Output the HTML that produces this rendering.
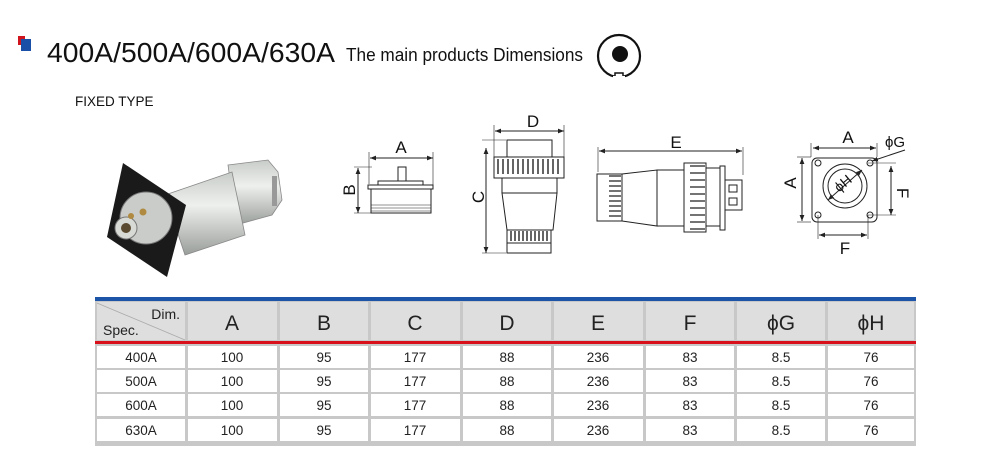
<!DOCTYPE html>
<html><head><meta charset="utf-8"><style>
html,body{margin:0;padding:0;background:#fff;}
svg{display:block;font-family:"Liberation Sans",Arial,sans-serif;}
</style></head><body>
<svg width="1000" height="476" viewBox="0 0 1000 476" xmlns="http://www.w3.org/2000/svg">
<defs>
<marker id="ar" viewBox="0 0 10 10" refX="10" refY="5" markerWidth="6" markerHeight="6" orient="auto-start-reverse"><path d="M0,1 L10,5 L0,9 z" fill="#222"/></marker>
<linearGradient id="cyl" x1="0" y1="0" x2="0" y2="1"><stop offset="0" stop-color="#c8ccc8"/><stop offset="0.4" stop-color="#eef0ee"/><stop offset="1" stop-color="#9a9e9a"/></linearGradient>
</defs>
<!-- title -->
<rect x="18" y="36" width="7" height="9" fill="#d0141e"/>
<rect x="21" y="39" width="10" height="12" fill="#1a4fa8"/>
<text x="47" y="62" font-size="28" fill="#111" textLength="288" lengthAdjust="spacingAndGlyphs">400A/500A/600A/630A</text>
<text x="346" y="61" font-size="18" fill="#111" textLength="237" lengthAdjust="spacingAndGlyphs">The main products Dimensions</text>
<circle cx="619" cy="56" r="21" fill="none" stroke="#111" stroke-width="2.2"/>
<circle cx="620" cy="54" r="8" fill="#111"/>
<rect x="615" y="73" width="8" height="6" fill="#fff" stroke="#111" stroke-width="1.5"/>
<rect x="613" y="76" width="12" height="5" fill="#fff"/>
<text x="75" y="106" font-size="13.5" fill="#111">FIXED TYPE</text>

<!-- photo -->
<g>
<path d="M228,165 L268,160 L278,172 L282,200 L272,215 L236,225 z" fill="url(#cyl)" stroke="#888" stroke-width="0.8"/>
<path d="M165,195 L232,172 L245,235 L185,255 z" fill="url(#cyl)" stroke="#888" stroke-width="0.8"/>
<path d="M123,163 L186,205 L167,277 L107,237 z" fill="#1a1a1a"/>
<circle cx="146" cy="218" r="26" fill="#c9ccc9" stroke="#777"/>
<circle cx="126" cy="228" r="11" fill="#d8dad6" stroke="#777"/>
<circle cx="126" cy="228" r="5" fill="#5a4a30"/>
<circle cx="143" cy="212" r="3.5" fill="#b08a40"/>
<circle cx="131" cy="216" r="3" fill="#b08a40"/>
<rect x="272" y="176" width="5" height="30" fill="#999"/>
</g>

<g stroke="#222" fill="none" stroke-width="1">
<line x1="370" y1="158" x2="433" y2="158" marker-start="url(#ar)" marker-end="url(#ar)"/>
<line x1="369" y1="152" x2="369" y2="184" stroke-width="0.6"/>
<line x1="433" y1="152" x2="433" y2="186" stroke-width="0.6"/>
<line x1="358" y1="168" x2="358" y2="213" marker-start="url(#ar)" marker-end="url(#ar)"/>
<line x1="354" y1="167" x2="372" y2="167" stroke-width="0.6"/>
<line x1="354" y1="213" x2="372" y2="213" stroke-width="0.6"/>
<rect x="398" y="167" width="8" height="14"/>
<rect x="378" y="181" width="45" height="4"/>
<rect x="368" y="185" width="65" height="4"/>
<rect x="371" y="189" width="60" height="24"/>
<line x1="371" y1="205" x2="431" y2="205" stroke-width="0.6"/><line x1="371" y1="208" x2="431" y2="208" stroke-width="0.6"/><line x1="371" y1="211" x2="431" y2="211" stroke-width="0.6"/>
<line x1="495" y1="131" x2="564" y2="131" marker-start="url(#ar)" marker-end="url(#ar)"/>
<line x1="494" y1="125" x2="494" y2="157" stroke-width="0.6"/>
<line x1="564" y1="125" x2="564" y2="157" stroke-width="0.6"/>
<line x1="486" y1="148" x2="486" y2="253" marker-start="url(#ar)" marker-end="url(#ar)"/>
<line x1="482" y1="140" x2="506" y2="140" stroke-width="0.6"/>
<line x1="482" y1="253" x2="506" y2="253" stroke-width="0.6"/>
<rect x="507" y="140" width="45" height="17"/>
<rect x="494" y="157" width="70" height="21"/>
<rect x="502" y="178" width="55" height="15"/>
<path d="M502,193 L557,193 L553,230 L507,230 z"/>
<rect x="507" y="230" width="44" height="13"/>
<rect x="507" y="243" width="44" height="10"/>
</g>
<g stroke="#222" stroke-width="1.4">
<path d="M498,159v15M503,159v15M508,159v15M513,159v15M518,159v15M523,159v15M528,159v15M533,159v15M538,159v15M543,159v15M548,159v15M553,159v15M558,159v15"/>
<path d="M511,231v10M515,231v10M519,231v10M523,231v10M527,231v10M531,231v10M535,231v10M539,231v10M543,231v10M547,231v10"/>
</g>
<g stroke="#222" fill="none" stroke-width="1">
<line x1="599" y1="151" x2="742" y2="151" marker-start="url(#ar)" marker-end="url(#ar)"/>
<line x1="598" y1="147" x2="598" y2="172" stroke-width="0.6"/>
<line x1="743" y1="147" x2="743" y2="175" stroke-width="0.6"/>
<rect x="597" y="174" width="25" height="47"/>
<path d="M622,174 L657,170 L657,226 L622,221"/>
<rect x="657" y="170" width="27" height="56"/>
<rect x="684" y="163" width="22" height="69"/>
<rect x="706" y="168" width="14" height="58"/>
<rect x="720" y="166" width="5" height="64"/>
<rect x="725" y="180" width="17" height="30"/>
<rect x="729" y="185" width="8" height="7"/><rect x="729" y="198" width="8" height="7"/>
</g>
<g stroke="#222" stroke-width="1.3">
<path d="M609,176h12M609,181h12M609,186h12M609,191h12M609,196h12M609,201h12M609,206h12M609,211h12M609,216h12"/>
<path d="M690,166h15M690,173h15M690,180h15M690,187h15M690,194h15M690,201h15M690,208h15M690,215h15M690,222h15M690,229h15"/>
</g>
<g stroke="#222" fill="none" stroke-width="1">
<rect x="812" y="158" width="65" height="64" rx="5"/>
<line x1="813" y1="148" x2="876" y2="148" marker-start="url(#ar)" marker-end="url(#ar)"/>
<line x1="811" y1="143" x2="811" y2="157" stroke-width="0.6"/>
<line x1="877" y1="143" x2="877" y2="157" stroke-width="0.6"/>
<line x1="802" y1="158" x2="802" y2="221" marker-start="url(#ar)" marker-end="url(#ar)"/>
<line x1="797" y1="157" x2="811" y2="157" stroke-width="0.6"/>
<line x1="797" y1="222" x2="811" y2="222" stroke-width="0.6"/>
<line x1="891" y1="166" x2="891" y2="215" marker-start="url(#ar)" marker-end="url(#ar)"/>
<line x1="868" y1="163" x2="896" y2="163" stroke-width="0.6"/>
<line x1="868" y1="215" x2="896" y2="215" stroke-width="0.6"/>
<line x1="819" y1="235" x2="867" y2="235" marker-start="url(#ar)" marker-end="url(#ar)"/>
<line x1="818" y1="215" x2="818" y2="239" stroke-width="0.6"/>
<line x1="868" y1="215" x2="868" y2="239" stroke-width="0.6"/>
<circle cx="845" cy="186" r="22"/>
<circle cx="845" cy="186" r="17"/>
<circle cx="818" cy="163" r="3"/><circle cx="870" cy="163" r="3"/>
<circle cx="818" cy="215" r="3"/><circle cx="870" cy="215" r="3"/>
<line x1="828" y1="200" x2="862" y2="170" marker-start="url(#ar)" marker-end="url(#ar)"/>
<line x1="872" y1="161" x2="905" y2="150" marker-start="url(#ar)"/>
</g>
<g font-size="17" fill="#111" text-anchor="middle">
<text x="401" y="153">A</text>
<text x="533" y="127">D</text>
<text x="676" y="148">E</text>
<text x="848" y="143">A</text>
<text x="845" y="254">F</text>
<text x="895" y="147" font-size="15">ϕG</text>
<text transform="translate(355,190) rotate(-90)">B</text>
<text transform="translate(484,197) rotate(-90)">C</text>
<text transform="translate(796,183) rotate(-90)">A</text>
<text transform="translate(897,193) rotate(90)">F</text>
<text transform="translate(846,187) rotate(-40)" font-size="14">ϕH</text>
</g>

<rect x="95" y="297" width="821" height="149" fill="#c8c8c8"/>
<rect x="95" y="297" width="821" height="4" fill="#1c55a8"/>
<g fill="#dedede">
<rect x="97" y="302" width="88" height="38"/>
<rect x="188" y="302" width="89" height="38"/>
<rect x="280" y="302" width="88" height="38"/>
<rect x="371" y="302" width="89" height="38"/>
<rect x="463" y="302" width="88" height="38"/>
<rect x="554" y="302" width="89" height="38"/>
<rect x="646" y="302" width="88" height="38"/>
<rect x="737" y="302" width="88" height="38"/>
<rect x="828" y="302" width="86" height="38"/>
</g>
<line x1="97" y1="303" x2="185" y2="340" stroke="#aaa" stroke-width="0.8"/>
<rect x="95" y="341" width="821" height="3" fill="#d8101c"/>
<g fill="#fff">
<g id="r1"><rect x="97" y="346" width="88" height="22"/><rect x="188" y="346" width="89" height="22"/><rect x="280" y="346" width="88" height="22"/><rect x="371" y="346" width="89" height="22"/><rect x="463" y="346" width="88" height="22"/><rect x="554" y="346" width="89" height="22"/><rect x="646" y="346" width="88" height="22"/><rect x="737" y="346" width="88" height="22"/><rect x="828" y="346" width="86" height="22"/></g>
<use href="#r1" y="24"/><use href="#r1" y="48"/><use href="#r1" y="73"/>
</g>
<g fill="#222" text-anchor="middle">
<text x="180" y="319" font-size="14" text-anchor="end">Dim.</text>
<text x="103" y="335" font-size="14" text-anchor="start">Spec.</text>
<g font-size="21"><text x="232" y="330">A</text><text x="324" y="330">B</text><text x="415" y="330">C</text><text x="507" y="330">D</text><text x="598" y="330">E</text><text x="690" y="330">F</text><text x="781" y="330">ϕG</text><text x="871" y="330">ϕH</text></g>
<g font-size="13.5"><text x="141" y="362">400A</text><text x="232" y="362">100</text><text x="324" y="362">95</text><text x="415" y="362">177</text><text x="507" y="362">88</text><text x="598" y="362">236</text><text x="690" y="362">83</text><text x="781" y="362">8.5</text><text x="871" y="362">76</text></g>
<g font-size="13.5"><text x="141" y="386">500A</text><text x="232" y="386">100</text><text x="324" y="386">95</text><text x="415" y="386">177</text><text x="507" y="386">88</text><text x="598" y="386">236</text><text x="690" y="386">83</text><text x="781" y="386">8.5</text><text x="871" y="386">76</text></g>
<g font-size="13.5"><text x="141" y="410">600A</text><text x="232" y="410">100</text><text x="324" y="410">95</text><text x="415" y="410">177</text><text x="507" y="410">88</text><text x="598" y="410">236</text><text x="690" y="410">83</text><text x="781" y="410">8.5</text><text x="871" y="410">76</text></g>
<g font-size="13.5"><text x="141" y="435">630A</text><text x="232" y="435">100</text><text x="324" y="435">95</text><text x="415" y="435">177</text><text x="507" y="435">88</text><text x="598" y="435">236</text><text x="690" y="435">83</text><text x="781" y="435">8.5</text><text x="871" y="435">76</text></g>
</g>
</svg>
</body></html>
